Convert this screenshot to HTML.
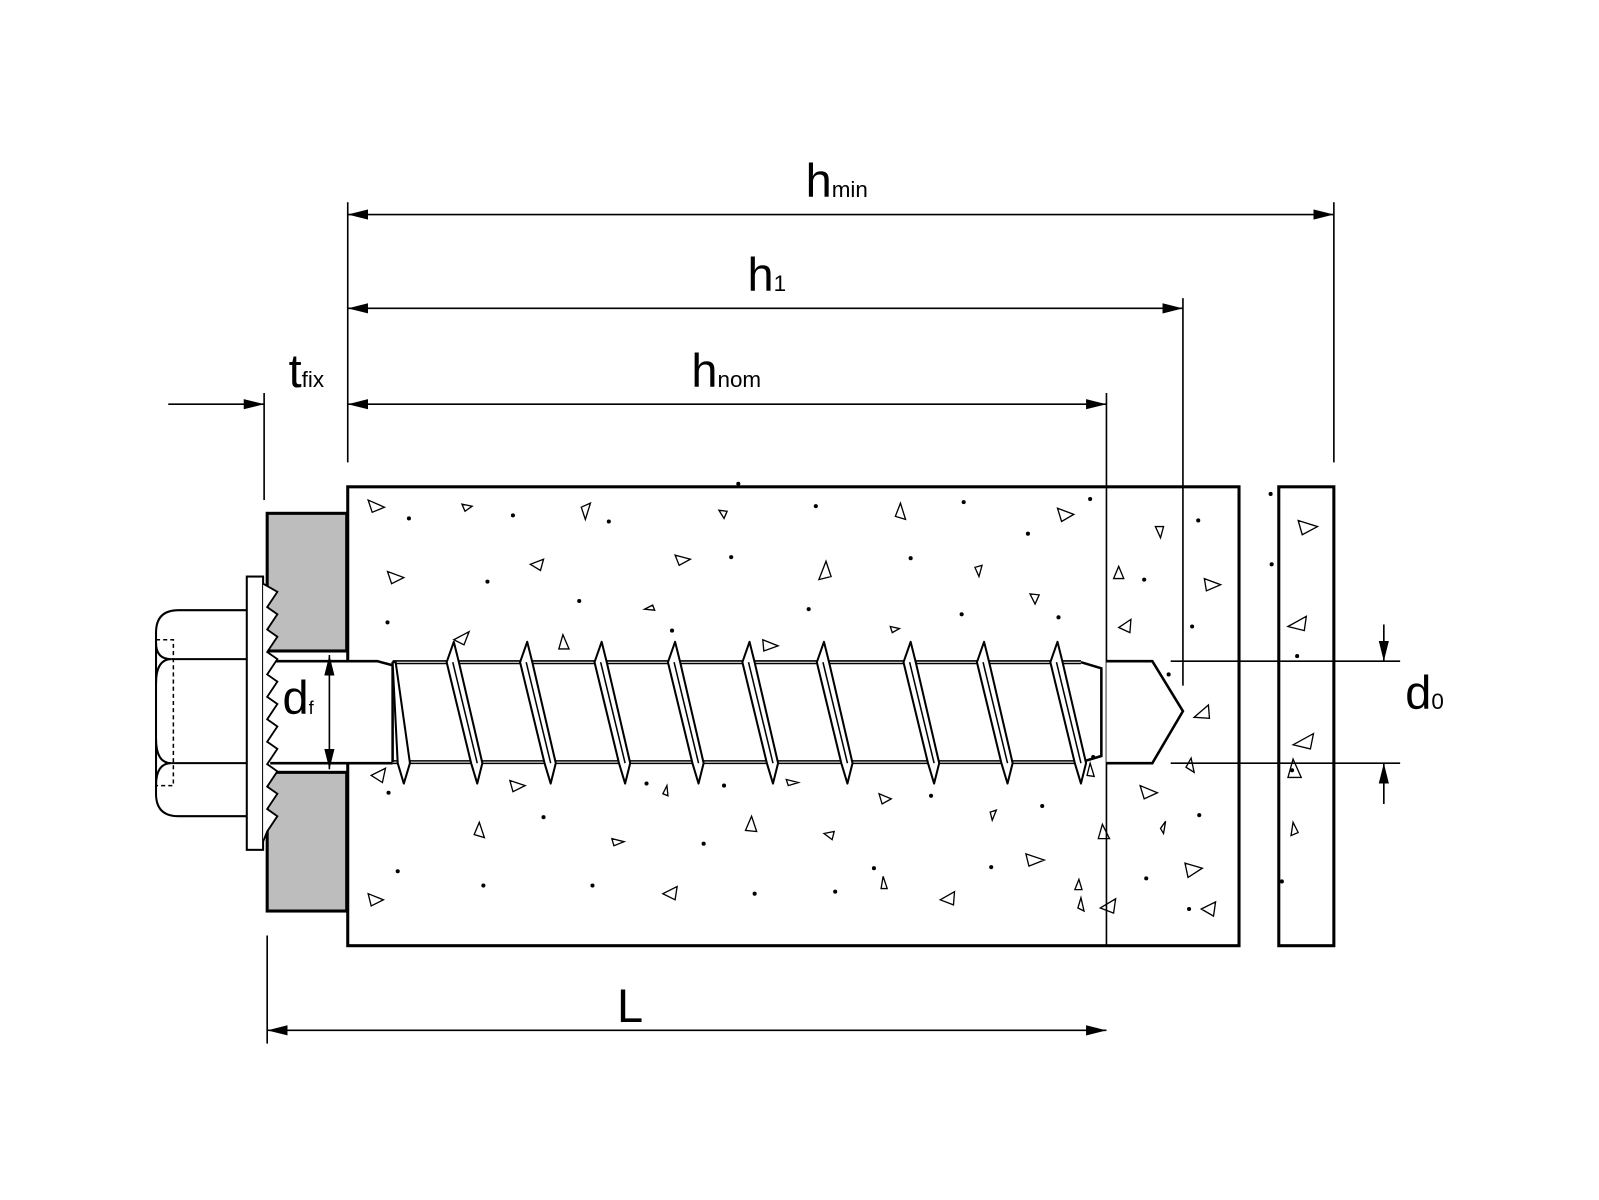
<!DOCTYPE html>
<html><head><meta charset="utf-8"><style>html,body{margin:0;padding:0;background:#fff}svg{display:block}</style></head>
<body>
<svg width="1599" height="1200" viewBox="0 0 1568 1176" xmlns="http://www.w3.org/2000/svg">
<defs>
<marker id="a" viewBox="0 0 20 10" refX="20" refY="5" markerWidth="20" markerHeight="10" markerUnits="userSpaceOnUse" orient="auto-start-reverse"><path d="M0,0 L20,5 L0,10 z" fill="#000"/></marker>
</defs>
<g fill="none" stroke="#000">
<rect x="341" y="477" width="874" height="450" stroke-width="3" fill="#fff"/>
<rect x="1254" y="477" width="54" height="450" stroke-width="3" fill="#fff"/>
<rect x="262" y="503" width="78" height="135" stroke-width="3" fill="#bdbdbd"/>
<rect x="262" y="757" width="78" height="136" stroke-width="3" fill="#bdbdbd"/>
<g stroke-width="1.6">
<line x1="341" y1="198" x2="341" y2="453"/>
<line x1="1308" y1="198" x2="1308" y2="453"/>
<line x1="1160" y1="292" x2="1160" y2="672"/>
<line x1="1085" y1="385" x2="1085" y2="927"/>
<line x1="259" y1="385" x2="259" y2="490"/>
<line x1="262" y1="917" x2="262" y2="1023"/>
<line x1="1148" y1="648" x2="1373" y2="648"/>
<line x1="1148" y1="748" x2="1373" y2="748"/>
<line x1="341" y1="210" x2="1308" y2="210" marker-start="url(#a)" marker-end="url(#a)"/>
<line x1="341" y1="302" x2="1160" y2="302" marker-start="url(#a)" marker-end="url(#a)"/>
<line x1="341" y1="396" x2="1085" y2="396" marker-start="url(#a)" marker-end="url(#a)"/>
<line x1="165" y1="396" x2="259" y2="396" marker-end="url(#a)"/>
<line x1="262" y1="1010" x2="1085" y2="1010" marker-start="url(#a)" marker-end="url(#a)"/>
<line x1="1357" y1="612" x2="1357" y2="648" marker-end="url(#a)"/>
<line x1="1357" y1="788" x2="1357" y2="748" marker-end="url(#a)"/>
</g>
<polyline points="1085,648 1130,648 1160,697 1130,748 1085,748" stroke-width="2.5" fill="#fff"/>
<rect x="265" y="648" width="120" height="100" fill="#fff" stroke="none"/>
<polyline points="265,648 370,648 385,652" stroke-width="2.5"/>
<line x1="265" y1="748" x2="385" y2="748" stroke-width="2.5"/>
<rect x="385" y="650" width="690" height="96" fill="#fff" stroke="none"/>
<line x1="385" y1="649" x2="1060" y2="649" stroke-width="4"/>
<line x1="385" y1="747" x2="1060" y2="747" stroke-width="4"/>
<line x1="385" y1="649" x2="1060" y2="649" stroke="#fff" stroke-width="1"/>
<line x1="385" y1="747" x2="1060" y2="747" stroke="#fff" stroke-width="1"/>
<polyline points="1060,649 1080,655 1080,741 1060,747" stroke-width="2.5"/>
<line x1="385" y1="649" x2="385" y2="747" stroke-width="2.5"/>
<g stroke-width="2" fill="#fff" stroke-linejoin="round">
<polygon points="385,649 388,649 402,748 396,768 390,748"/>
<polygon points="438,649 445,629 450,649 473,748 468,768 462,748"/>
<polygon points="510,649 517,629 522,649 545,748 540,768 534,748"/>
<polygon points="583,649 590,629 595,649 618,748 613,768 607,748"/>
<polygon points="655,649 662,629 667,649 690,748 685,768 679,748"/>
<polygon points="728,649 735,629 740,649 763,748 758,768 752,748"/>
<polygon points="801,649 808,629 813,649 836,748 831,768 825,748"/>
<polygon points="886,649 893,629 898,649 921,748 916,768 910,748"/>
<polygon points="958,649 965,629 970,649 993,748 988,768 982,748"/>
<polygon points="1030,649 1037,629 1042,649 1065,748 1060,768 1054,748"/>
</g>
<g stroke-width="1.5">
<line x1="444" y1="649" x2="468" y2="748"/><line x1="516" y1="649" x2="540" y2="748"/>
<line x1="589" y1="649" x2="613" y2="748"/><line x1="661" y1="649" x2="685" y2="748"/>
<line x1="734" y1="649" x2="758" y2="748"/><line x1="807" y1="649" x2="831" y2="748"/>
<line x1="892" y1="649" x2="916" y2="748"/><line x1="964" y1="649" x2="988" y2="748"/>
<line x1="1036" y1="649" x2="1060" y2="748"/>
</g>
<path d="M242,598 L175,598 Q153,598 153,620 L153,778 Q153,800 175,800 L242,800" stroke-width="2" fill="#fff"/>
<line x1="168" y1="646" x2="242" y2="646" stroke-width="2"/>
<line x1="168" y1="748" x2="242" y2="748" stroke-width="2"/>
<path d="M153,630 Q153,646 168,646 Q153,646 153,670 M153,724 Q153,748 168,748 Q153,748 153,770" stroke-width="2"/>
<rect x="153" y="627" width="17" height="143" stroke-width="1.5" stroke-dasharray="4,3"/>
<rect x="242" y="565" width="16" height="268" stroke-width="2" fill="#fff"/>
<path d="M258,572 L272,580 L262,595 L272,602 L262,617 L272,624 L262,639 L272,646 L262,661 L272,668 L262,683 L272,690 L262,705 L272,712 L262,727 L272,734 L262,749 L272,756 L262,771 L272,778 L262,793 L272,800 L262,815 L258,825" stroke-width="1.8" fill="#fff"/>
<line x1="323" y1="642" x2="323" y2="754" stroke-width="1.6" marker-start="url(#a)" marker-end="url(#a)"/>
<g stroke-width="1.3">
<path d="M361,490l16,7l-12,5z M453,494l10,2l-7,5z M570,497l9,-4l-5,16z M705,500l5,8l3,-7z M883,493l5,16l-10,-3z M1037,498l16,6l-12,7z M1133,516l5,11l3,-11z M380,560l16,6l-12,6z M520,553l13,-5l-3,11z M662,544l15,4l-11,6z M803,568l7,-18l5,15z M956,556l4,9l3,-11z M1092,567l5,-12l5,12z M1181,567l16,6l-14,6z M632,597l8,-4l2,5z M873,614l9,2l-7,4z M1010,582l5,10l4,-9z M1097,615l12,-8l-1,13z M548,636l4,-14l6,14z M445,627l15,-8l-5,13z M748,627l15,6l-14,5z M1273,510l19,6l-15,8z M1263,614l18,-10l-2,14z M1268,730l20,-11l-3,15z M1263,762l5,-18l8,18z M1268,806l5,10l-7,3z M1171,703l14,-12l1,13z M1163,752l5,-9l3,14z M364,760l14,-7l-3,14z M500,765l15,5l-12,6z M650,778l4,-8l1,10z M771,764l12,3l-10,3z M1066,760l3,-12l4,13z M1118,770l17,7l-13,6z M1138,812l5,-7l-2,12z M971,796l6,-2l-4,10z M862,778l12,5l-9,5z M465,818l5,-12l5,15z M600,822l12,3l-10,4z M731,814l6,-14l5,15z M808,817l10,-2l-2,8z M1006,837l18,6l-15,6z M1077,822l4,-14l7,14z M1162,846l17,5l-14,9z M1178,891l14,-7l-2,14z M1054,872l4,-10l3,10z M922,882l14,-8l-1,13z M864,871l2,-12l4,12z M650,876l14,-7l-2,13z M361,876l15,6l-12,6z M1057,890l3,-10l3,13z M1079,890l15,-9l-2,14z"/>
</g>
</g>
<g fill="#000">
<circle cx="724" cy="474" r="2"/><circle cx="401" cy="508" r="2"/><circle cx="503" cy="505" r="2"/><circle cx="597" cy="511" r="2"/><circle cx="800" cy="496" r="2"/><circle cx="945" cy="492" r="2"/><circle cx="1069" cy="489" r="2"/><circle cx="1175" cy="510" r="2"/><circle cx="1008" cy="523" r="2"/><circle cx="478" cy="570" r="2"/><circle cx="717" cy="546" r="2"/><circle cx="893" cy="547" r="2"/><circle cx="1122" cy="568" r="2"/><circle cx="568" cy="589" r="2"/><circle cx="793" cy="597" r="2"/><circle cx="943" cy="602" r="2"/><circle cx="1038" cy="605" r="2"/><circle cx="380" cy="610" r="2"/><circle cx="659" cy="618" r="2"/><circle cx="1169" cy="614" r="2"/><circle cx="1246" cy="484" r="2"/><circle cx="1247" cy="553" r="2"/><circle cx="1272" cy="643" r="2"/><circle cx="1267" cy="755" r="2"/><circle cx="1257" cy="864" r="2"/><circle cx="1146" cy="661" r="2"/><circle cx="1072" cy="742" r="2"/><circle cx="1176" cy="799" r="2"/><circle cx="381" cy="777" r="2"/><circle cx="533" cy="801" r="2"/><circle cx="634" cy="768" r="2"/><circle cx="710" cy="770" r="2"/><circle cx="913" cy="780" r="2"/><circle cx="1022" cy="790" r="2"/><circle cx="690" cy="827" r="2"/><circle cx="857" cy="851" r="2"/><circle cx="972" cy="850" r="2"/><circle cx="1124" cy="861" r="2"/><circle cx="390" cy="854" r="2"/><circle cx="474" cy="868" r="2"/><circle cx="581" cy="868" r="2"/><circle cx="740" cy="876" r="2"/><circle cx="819" cy="874" r="2"/><circle cx="1166" cy="891" r="2"/>
</g>
<g font-family="Liberation Sans, sans-serif" fill="#000">
<text x="790" y="193" font-size="46">h<tspan font-size="22">min</tspan></text>
<text x="733" y="285" font-size="46">h<tspan font-size="22">1</tspan></text>
<text x="678" y="379" font-size="46">h<tspan font-size="22">nom</tspan></text>
<text x="283" y="379" font-size="46">t<tspan font-size="22">fix</tspan></text>
<text x="605" y="1002" font-size="46">L</text>
<text x="277" y="700" font-size="46">d<tspan font-size="18">f</tspan></text>
<text x="1378" y="695" font-size="46">d<tspan font-size="22">0</tspan></text>
</g>
</svg>
</body></html>
